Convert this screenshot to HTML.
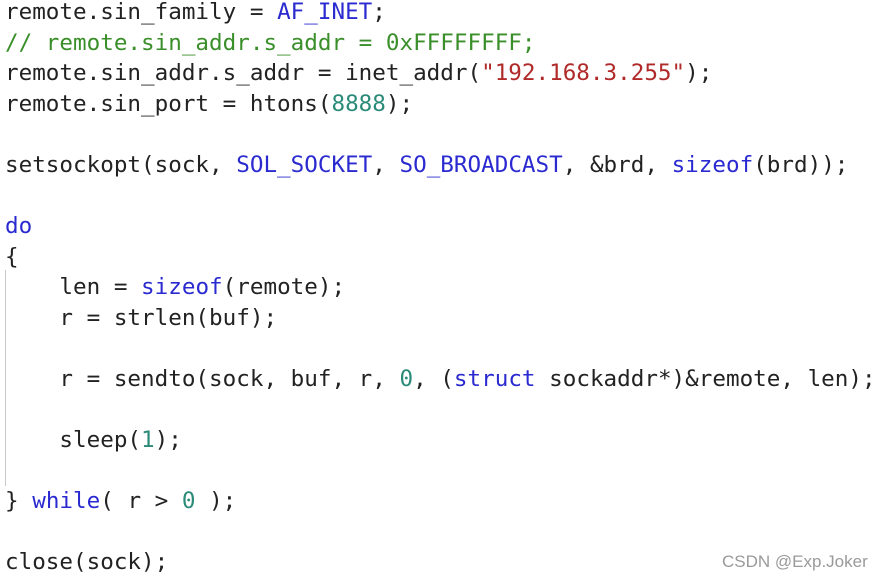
<!DOCTYPE html>
<html><head><meta charset="utf-8"><style>
html,body{margin:0;padding:0;background:#fff;width:884px;height:580px;overflow:hidden;position:relative}
pre{margin:0;position:absolute;left:5px;top:-3px;font-family:"DejaVu Sans Mono","Liberation Mono",monospace;font-size:22.6px;line-height:30.56px;color:#222}
.k{color:#2a2ad0}.c{color:#3a8f2a}.n{color:#2b8a78}.s{color:#b02a2a}
.bar{position:absolute;left:5px;top:270px;width:1px;height:216px;background:#c8c8c8}
.wm{position:absolute;left:722px;top:552px;font-family:"Liberation Sans","Noto Sans CJK SC",sans-serif;font-size:17px;color:#9a9a9a}
</style></head><body>
<div class="bar"></div>
<pre>remote.sin_family = <span class="k">AF_INET</span>;
<span class="c">// remote.sin_addr.s_addr = 0xFFFFFFFF;</span>
remote.sin_addr.s_addr = inet_addr(<span class="s">"192.168.3.255"</span>);
remote.sin_port = htons(<span class="n">8888</span>);

setsockopt(sock, <span class="k">SOL_SOCKET</span>, <span class="k">SO_BROADCAST</span>, &amp;brd, <span class="k">sizeof</span>(brd));

<span class="k">do</span>
{
    len = <span class="k">sizeof</span>(remote);
    r = strlen(buf);

    r = sendto(sock, buf, r, <span class="n">0</span>, (<span class="k">struct</span> sockaddr*)&amp;remote, len);

    sleep(<span class="n">1</span>);

} <span class="k">while</span>( r &gt; <span class="n">0</span> );

close(sock);</pre>
<div class="wm">CSDN @Exp.Joker</div>
</body></html>
